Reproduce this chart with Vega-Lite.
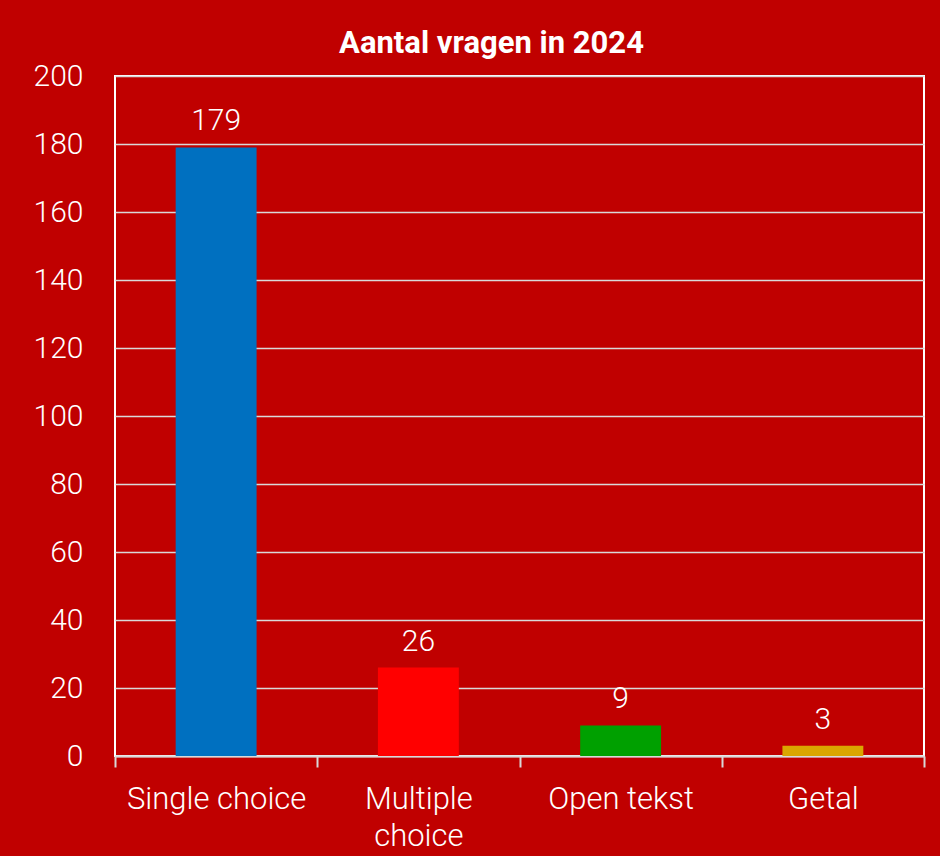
{
  "$schema": "https://vega.github.io/schema/vega-lite/v6.json",
  "width": 809,
  "height": 680,
  "autosize": {"type": "none"},
  "padding": {"left": 115, "top": 76, "right": 16, "bottom": 100},
  "background": "#C00000",
  "title": {
    "text": "Aantal vragen in 2024",
    "font": "Roboto",
    "fontSize": 31,
    "fontWeight": "bold",
    "color": "white",
    "anchor": "middle",
    "dx": -28,
    "offset": 1
  },
  "data": {
    "values": [
      {"type": "Single choice", "count": 179, "color": "#0070C0"},
      {"type": "Multiple choice", "count": 26, "color": "#FF0000"},
      {"type": "Open tekst", "count": 9, "color": "#00A000"},
      {"type": "Getal", "count": 3, "color": "#DAA600"}
    ]
  },
  "encoding": {
    "x": {
      "field": "type",
      "type": "nominal",
      "sort": null,
      "scale": {"paddingInner": 0, "paddingOuter": 0},
      "axis": {
        "title": null,
        "labelAngle": 0,
        "labelFont": "Roboto",
        "labelFontWeight": 300,
        "labelFontSize": 31,
        "labelColor": "white",
        "labelPadding": 17,
        "labelLineHeight": 37,
        "labelExpr": "datum.label == 'Multiple choice' ? ['Multiple', 'choice'] : datum.label",
        "tickBand": "extent",
        "tickSize": 11,
        "tickWidth": 2,
        "tickColor": "#D9D9D9",
        "domainColor": "#D9D9D9",
        "domainWidth": 2,
        "grid": false
      }
    },
    "y": {
      "field": "count",
      "type": "quantitative",
      "scale": {"domain": [0, 200]},
      "axis": {
        "title": null,
        "values": [0, 20, 40, 60, 80, 100, 120, 140, 160, 180, 200],
        "labelFont": "Roboto",
        "labelFontWeight": 300,
        "labelFontSize": 30,
        "labelColor": "white",
        "labelPadding": 32,
        "ticks": false,
        "domain": false,
        "grid": true,
        "gridColor": "#D9D9D9",
        "gridWidth": 1.5
      }
    }
  },
  "layer": [
    {
      "mark": {"type": "bar", "width": {"band": 0.4}},
      "encoding": {
        "color": {"field": "color", "type": "nominal", "scale": null}
      }
    },
    {
      "mark": {"type": "text", "baseline": "bottom", "dy": -11, "font": "Roboto", "fontWeight": 300, "fontSize": 30, "color": "white"},
      "encoding": {"text": {"field": "count", "type": "quantitative"}}
    }
  ],
  "config": {
    "view": {"stroke": "white", "strokeWidth": 2, "fill": null}
  }
}
